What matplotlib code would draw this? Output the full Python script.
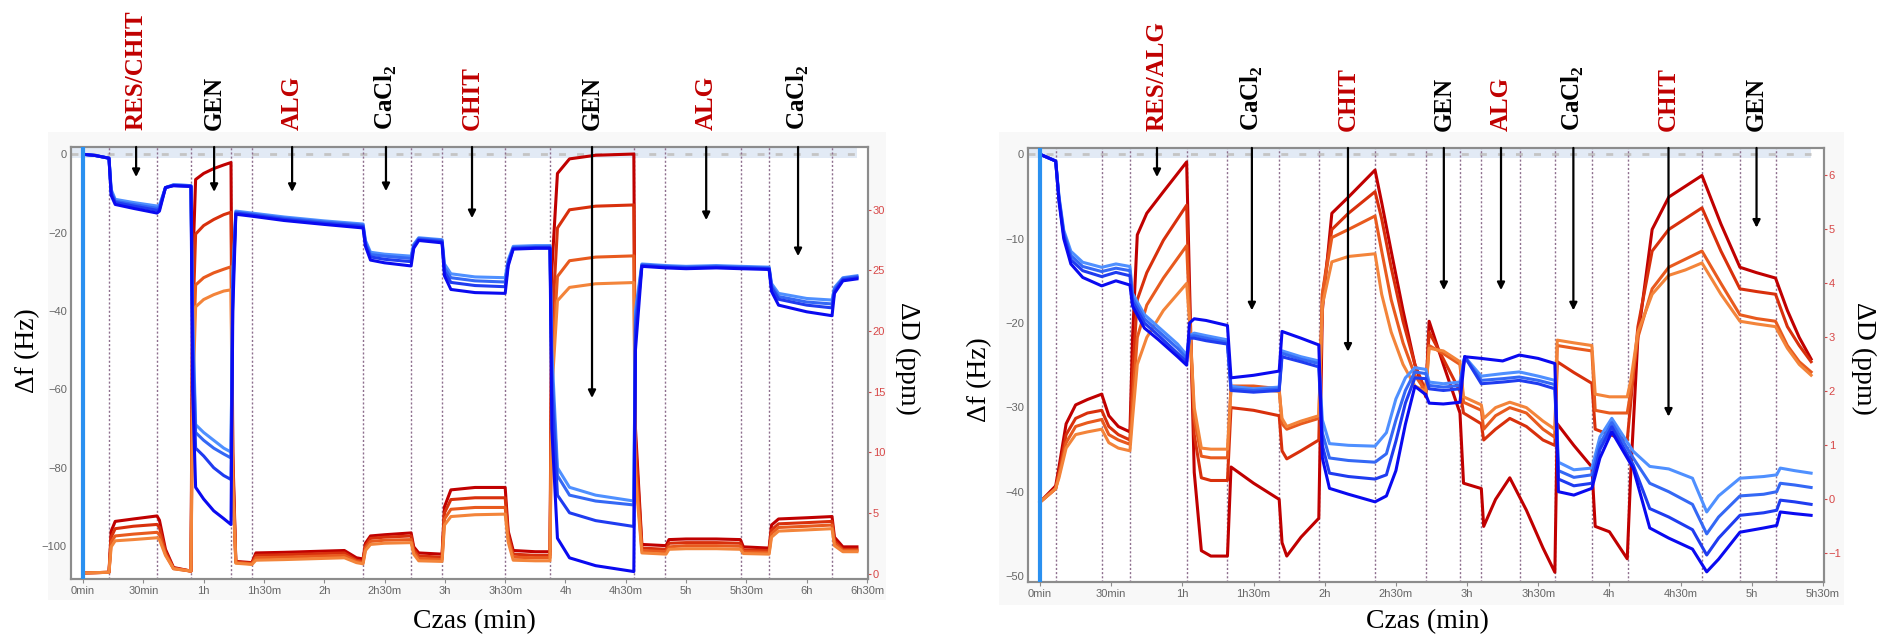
import matplotlib
matplotlib.use("Agg")
import matplotlib.pyplot as plt
from matplotlib.patches import Rectangle

plt.rcParams["mathtext.fontset"] = "custom"
plt.rcParams["mathtext.rm"] = "Liberation Serif"
plt.rcParams["mathtext.bf"] = "Liberation Serif:bold"

# ---------------- lewy panel (RES/CHIT) ----------------
# czas w minutach, Δf w Hz (4 overtony, od najjaśniejszego do najciemniejszego)
L_tf = [0, 6, 12.9, 14, 16, 25, 36.8, 38, 41, 45,
        53.7, 54.5, 56, 60, 65, 70, 73.6, 74.5, 76, 84,
        100, 120, 139.3, 140.5, 143, 150, 163.2, 164.5, 167, 178.6,
        179.8, 183, 195, 210, 211.5, 214, 225, 232.3, 233.2, 236,
        242, 255, 274, 274.8, 278, 290, 300, 315, 327, 341.3,
        342.5, 346, 360, 372.6, 373.8, 378, 385]
L_f1 = [0, -0.3, -1, -9, -11.5, -12.3, -13.2, -13, -8.5, -7.8,
        -8, -40, -69, -71, -73, -75, -76, -30, -14.5, -15,
        -16, -17, -17.8, -22, -25, -25.5, -26, -23, -21.3, -21.8,
        -28, -30.5, -31.3, -31.5, -27, -23.5, -23.3, -23.3, -50, -80,
        -85, -87, -88.5, -40, -28, -28.4, -28.6, -28.4, -28.6, -28.8,
        -33, -35.5, -36.8, -37.2, -34, -31.5, -31]
L_f2 = [0, -0.3, -1, -9.5, -12, -12.8, -13.8, -13.5, -8.5, -7.8,
        -8, -45, -71, -73, -75, -76.5, -77.5, -32, -14.8, -15.3,
        -16.3, -17.3, -18.1, -22.5, -25.6, -26, -26.6, -23.3, -21.5, -22,
        -29, -31.5, -32.3, -32.6, -27.5, -23.8, -23.6, -23.5, -55, -82,
        -87, -88.5, -89.5, -42, -28.2, -28.6, -28.8, -28.6, -28.8, -29,
        -33.5, -36.3, -37.7, -38.2, -34.5, -31.7, -31.2]
L_f3 = [0, -0.3, -1, -10, -12.3, -13.2, -14.3, -14, -8.5, -8,
        -8.2, -50, -75, -77, -80, -82, -83, -35, -15, -15.5,
        -16.6, -17.6, -18.4, -23, -26.2, -26.8, -27.4, -23.6, -21.8, -22.3,
        -30, -32.7, -33.5, -33.8, -28, -24, -23.8, -23.8, -60, -87,
        -91.5, -93.5, -95, -45, -28.4, -28.8, -29, -28.8, -29, -29.2,
        -34, -37, -38.5, -39.2, -35, -32, -31.5]
L_f4 = [0, -0.3, -1, -10.5, -12.8, -13.8, -15, -14.5, -8.5, -8,
        -8.2, -60, -85, -88, -91, -93, -94.5, -40, -15.3, -15.8,
        -16.9, -17.9, -18.8, -23.5, -27, -27.7, -28.5, -24, -22, -22.6,
        -31, -34.5, -35.3, -35.5, -28.5, -24.2, -24, -24, -70, -98,
        -103, -105, -106.5, -50, -28.6, -29, -29.2, -29, -29.2, -29.4,
        -35, -38.5, -40.2, -41.2, -35.5, -32.3, -31.8]

# ΔD w ppm (od ciemnoczerwonego do pomarańczowego)
L_td = [0, 12.9, 14, 16, 25, 36.8, 38, 41, 45, 53.7,
        54.5, 56, 60, 65, 70, 73.6, 74.5, 76, 84, 86,
        100, 120, 130, 136, 139.3, 140.5, 143, 150, 163.2, 164.5,
        167, 178.6, 179.8, 183, 195, 210, 211.5, 214, 225, 232.3,
        233.2, 236, 242, 255, 274, 274.8, 278, 290, 291.5, 300,
        315, 327, 328.5, 341.3, 342.5, 346, 360, 372.6, 373.8, 378,
        385]
L_d1 = [0.05, 0.1, 3.5, 4.3, 4.5, 4.75, 4.4, 2.0, 0.5, 0.2,
        25, 32.5, 33, 33.4, 33.7, 33.9, 10, 1.0, 0.9, 1.7,
        1.75, 1.85, 1.9, 1.3, 1.2, 2.5, 3.1, 3.2, 3.35, 2.2,
        1.7, 1.6, 5.5, 6.9, 7.1, 7.1, 3.5, 1.9, 1.8, 1.8,
        25, 33, 34.2, 34.5, 34.6, 12, 2.4, 2.3, 2.8, 2.85,
        2.85, 2.8, 2.2, 2.1, 4.0, 4.5, 4.6, 4.7, 3.0, 2.2,
        2.2]
L_d2 = [0.05, 0.1, 3.0, 3.7, 3.9, 4.05, 3.8, 1.8, 0.45, 0.2,
        20, 28, 28.7, 29.2, 29.6, 29.8, 9, 0.95, 0.85, 1.5,
        1.55, 1.65, 1.7, 1.1, 1.0, 2.3, 2.9, 3.0, 3.1, 2.0,
        1.45, 1.35, 5.0, 6.1, 6.25, 6.25, 3.2, 1.6, 1.5, 1.5,
        20, 28.5, 30, 30.3, 30.4, 11, 2.1, 2.0, 2.5, 2.55,
        2.55, 2.5, 1.95, 1.9, 3.6, 4.1, 4.2, 4.3, 2.7, 2.0,
        2.0]
L_d3 = [0.05, 0.1, 2.6, 3.1, 3.25, 3.4, 3.2, 1.6, 0.4, 0.2,
        16, 23.8, 24.4, 24.8, 25.1, 25.3, 8, 0.9, 0.8, 1.3,
        1.35, 1.45, 1.5, 1.0, 0.9, 2.1, 2.65, 2.75, 2.8, 1.8,
        1.25, 1.15, 4.5, 5.3, 5.45, 5.45, 2.9, 1.35, 1.3, 1.3,
        17, 24.5, 25.8, 26.1, 26.2, 9, 1.9, 1.8, 2.2, 2.3,
        2.3, 2.25, 1.8, 1.75, 3.3, 3.8, 3.9, 4.0, 2.5, 1.9,
        1.9]
L_d4 = [0.05, 0.1, 2.2, 2.7, 2.8, 2.95, 2.8, 1.5, 0.4, 0.2,
        14, 22, 22.6, 23.0, 23.3, 23.4, 7, 0.85, 0.75, 1.1,
        1.15, 1.25, 1.3, 0.9, 0.8, 1.9, 2.4, 2.5, 2.55, 1.6,
        1.05, 1.0, 4.0, 4.7, 4.85, 4.9, 2.6, 1.1, 1.05, 1.05,
        15, 22.5, 23.6, 23.9, 24.0, 8, 1.7, 1.6, 2.0, 2.05,
        2.05, 2.0, 1.65, 1.6, 3.0, 3.5, 3.6, 3.7, 2.3, 1.8,
        1.8]

L_marks = [12.9, 36.8, 53.7, 73.6, 84.1, 139.3, 163.2, 178.6, 210,
           232.3, 274, 289.6, 327.4, 341.3, 372.6]
L_events = ["RES/CHIT", "GEN", "ALG", "CaCl$_\\mathbf{2}$",
            "CHIT", "GEN", "ALG", "CaCl$_\\mathbf{2}$"]
L_event_t = [26.4, 65.2, 104, 150.7, 193.5, 253.2, 310, 355.7]
L_event_end = [-5.8, -9.6, -9.6, -9.4, -16.3, -62.2, -16.8, -26]

# ---------------- prawy panel (RES/ALG) ----------------
R_tf = [0, 6.6, 8, 10, 13, 18, 26, 32, 37.9, 39,
        44, 50, 58, 61.8, 63, 65, 70, 79, 80.5, 90,
        100.8, 102, 110, 117.5, 119, 122, 130, 141.2, 146, 150,
        154, 158, 162.6, 164, 170, 177, 179, 186, 195, 202,
        210, 217, 218.5, 225, 232.6, 236, 241, 250, 257, 265,
        275, 281, 286, 295, 305, 310.5, 312, 318, 325]
R_f1 = [0, -0.8, -5, -9, -11.5, -12.8, -13.4, -13.0, -13.3, -16.5,
        -19.0, -20.5, -22.5, -23.8, -21.5, -21.2, -21.5, -22.0, -27.5, -27.8,
        -27.6, -23.3, -24.0, -24.5, -31.5, -34.3, -34.5, -34.6, -33.0, -29.0,
        -26.5, -25.3, -25.5, -27.0, -27.2, -27.0, -24.0, -26.3, -26.0, -25.8,
        -26.3, -26.8, -36.5, -37.4, -37.2, -33.5, -31.3, -35.2, -37.0, -37.3,
        -38.4, -42.4, -40.5, -38.4, -38.2, -38.0, -37.2, -37.5, -37.8]
R_f2 = [0, -0.8, -5.2, -9.3, -12.0, -13.3, -13.9, -13.5, -13.8, -17.0,
        -19.5, -21.0, -23.0, -24.2, -21.6, -21.5, -21.8, -22.3, -27.8, -28.0,
        -27.8, -23.6, -24.3, -24.8, -33.0, -36.0, -36.3, -36.5, -35.5, -31.5,
        -28.0, -25.8, -26.0, -27.4, -27.6, -27.4, -24.0, -26.8, -26.6, -26.4,
        -26.8, -27.3, -37.5, -38.3, -38.0, -34.3, -31.8, -36.0, -39.0, -40.0,
        -41.5, -45.0, -43.0, -40.5, -40.3, -40.0, -39.0, -39.2, -39.5]
R_f3 = [0, -0.8, -5.4, -9.6, -12.5, -13.8, -14.5, -14.0, -14.4, -17.5,
        -20.0, -21.5, -23.6, -24.6, -21.8, -21.8, -22.1, -22.5, -28.0, -28.2,
        -28.0, -24.0, -24.6, -25.2, -34.5, -37.8, -38.2, -38.5, -38.0, -34.0,
        -29.5, -26.5, -26.6, -27.8, -28.0, -27.8, -24.0, -27.2, -27.0, -26.8,
        -27.2, -27.8, -38.5, -39.3, -39.0, -35.0, -32.3, -36.8, -42.0, -43.0,
        -44.5, -47.5, -45.5, -42.8, -42.5, -42.2, -41.0, -41.2, -41.5]
R_f4 = [0, -0.8, -5.6, -10.0, -13.0, -14.6, -15.6, -15.0, -15.5, -18.0,
        -20.6, -22.0, -24.0, -25.0, -20.0, -19.5, -19.7, -20.3, -26.5, -26.2,
        -25.7, -21.0, -21.8, -22.6, -36.0, -39.6, -40.3, -41.2, -40.5, -37.5,
        -32.0, -27.5, -28.5, -29.5, -29.6, -29.4, -24.0, -24.2, -24.5, -23.8,
        -24.2, -24.8, -40.0, -40.4, -39.6, -36.0, -32.9, -37.2, -44.3, -45.5,
        -46.8, -49.5, -48.0, -44.8, -44.3, -44.0, -42.4, -42.6, -42.8]

R_td = [0, 6.6, 8, 11, 15, 20, 26, 29, 33, 37.9,
        39, 41, 45, 52, 61.8, 63, 65, 68, 72, 79,
        80.5, 90, 100.8, 102, 104, 110, 117.5, 119, 123, 130,
        141.2, 144, 148, 153, 158, 162.6, 164, 170, 177, 178.5,
        186, 187, 192, 198, 205, 212, 217, 218, 225, 232.6,
        234, 240, 247.5, 249, 252, 258, 265, 272, 279, 287,
        295, 302, 310, 315, 320, 325]
R_d1 = [-0.05, 0.25, 0.6, 1.4, 1.75, 1.85, 1.95, 1.55, 1.35, 1.25,
        3.0, 4.9, 5.3, 5.7, 6.25, 4.0, 0.5, -0.95, -1.05, -1.05,
        0.6, 0.3, 0.0, -0.8, -1.05, -0.7, -0.35, 3.5, 5.3, 5.6,
        6.1, 5.5, 4.6, 3.5, 2.5, 1.9, 3.3, 2.5, 1.6, 0.3,
        0.2, -0.5, 0.0, 0.4, -0.2, -0.9, -1.35, 1.4, 1.0, 0.6,
        -0.5, -0.6, -1.1, 0.5, 3.0, 5.0, 5.6, 5.8, 6.0, 5.1,
        4.3, 4.2, 4.1, 3.5, 3.0, 2.6]
R_d2 = [-0.05, 0.2, 0.5, 1.2, 1.5, 1.6, 1.65, 1.35, 1.2, 1.1,
        2.3, 3.7, 4.2, 4.8, 5.45, 3.5, 1.2, 0.4, 0.35, 0.35,
        1.7, 1.65, 1.55, 0.9, 0.75, 0.9, 1.1, 3.8, 5.0, 5.3,
        5.7, 5.2, 4.3, 3.3, 2.5, 2.0, 3.1, 2.6, 2.0, 1.6,
        1.4, 1.1, 1.3, 1.5, 1.35, 1.1, 1.0, 2.55, 2.35, 2.15,
        1.3, 1.2, 1.1, 1.8, 3.2, 4.6, 5.0, 5.2, 5.4, 4.6,
        3.9, 3.85, 3.8, 3.2, 2.85, 2.55]
R_d3 = [-0.05, 0.2, 0.45, 1.05, 1.35, 1.42, 1.48, 1.2, 1.1, 1.02,
        1.8, 3.0, 3.6, 4.1, 4.7, 3.5, 1.5, 0.8, 0.77, 0.77,
        2.1, 2.1, 2.05, 1.4, 1.3, 1.4, 1.5, 3.8, 4.85, 5.0,
        5.25, 4.6, 3.7, 2.9, 2.3, 2.0, 2.85, 2.7, 2.5, 1.8,
        1.65, 1.3, 1.55, 1.7, 1.6, 1.3, 1.15, 2.85, 2.8, 2.75,
        1.65, 1.6, 1.6, 2.0, 3.0, 3.9, 4.3, 4.45, 4.6, 4.0,
        3.42, 3.35, 3.3, 2.85, 2.55, 2.36]
R_d4 = [-0.05, 0.2, 0.4, 0.95, 1.2, 1.25, 1.3, 1.05, 0.95, 0.9,
        1.5, 2.5, 3.0, 3.5, 4.0, 3.3, 1.7, 0.95, 0.93, 0.93,
        2.05, 2.05, 2.0, 1.5, 1.35, 1.45, 1.55, 3.6, 4.4, 4.5,
        4.55, 3.8, 3.1, 2.5, 2.1, 2.0, 2.8, 2.75, 2.55, 1.9,
        1.75, 1.5, 1.7, 1.8, 1.7, 1.45, 1.3, 2.95, 2.9, 2.85,
        1.95, 1.9, 1.9, 2.2, 3.1, 3.8, 4.15, 4.25, 4.38, 3.8,
        3.3, 3.25, 3.2, 2.8, 2.5, 2.3]

R_marks = [6.6, 26, 37.9, 61.8, 79, 100.8, 117.5, 141.2, 162.6, 177,
           186, 202.3, 217, 232.6, 248, 279, 295, 310]
R_events = ["RES/ALG", "CaCl$_\\mathbf{2}$", "CHIT", "GEN",
            "ALG", "CaCl$_\\mathbf{2}$", "CHIT", "GEN"]
R_event_t = [49.3, 89.3, 129.8, 170.2, 194.3, 224.8, 264.9, 302]
R_event_end = [-2.7, -18.5, -23.4, -16.1, -16.1, -18.5, -31.1, -8.7]

event_colors = ["#c00000", "black", "#c00000", "black", "#c00000", "black", "#c00000", "black"]
time_labels = ["0min", "30min", "1h", "1h30m", "2h", "2h30m", "3h",
               "3h30m", "4h", "4h30m", "5h", "5h30m", "6h", "6h30m"]

f_colors = ["#4f90ff", "#3468f5", "#1f3cf0", "#0a0af0"]
d_colors = ["#c00000", "#d8300c", "#e85a1e", "#f3843a"]

fig = plt.figure(figsize=(18.78, 6.35), dpi=100)

# jasnoszare tło pod wykresami
fig.patches.append(Rectangle((0.0256, 0.055), 0.446, 0.737, transform=fig.transFigure,
                             facecolor="#f8f8f8", edgecolor="none", zorder=-10))
fig.patches.append(Rectangle((0.532, 0.047), 0.45, 0.745, transform=fig.transFigure,
                             facecolor="#f8f8f8", edgecolor="none", zorder=-10))


def panel(rect, tf, fs, td, ds, xlim, flim, dlim, fticks, dticks, nticks,
          marks, t_end, band_low, events, ev_t, ev_end):
    axd = fig.add_axes(rect)
    ax = axd.twinx()
    # Δf na lewej osi, ΔD na prawej
    ax.yaxis.tick_left()
    axd.yaxis.tick_right()
    axd.set_facecolor("white")

    frac_end = (t_end - xlim[0]) / (xlim[1] - xlim[0])
    frac_band = (band_low - flim[0]) / (flim[1] - flim[0])
    frac_zero = (0 - flim[0]) / (flim[1] - flim[0])
    axd.add_patch(Rectangle((0, frac_band), frac_end, 1 - frac_band, transform=axd.transAxes,
                            facecolor="#e2eaf5", edgecolor="none", zorder=0))
    axd.plot([0, frac_end], [frac_zero, frac_zero], transform=axd.transAxes,
             color="#c4c4c4", lw=2, dashes=(2.5, 4), zorder=0.5)
    for m in marks:
        axd.axvline(m, color="#8e6f8e", lw=1, dashes=(1.5, 1.5), zorder=0.8)

    for vals, c in zip(ds, d_colors):
        axd.plot(td, vals, color=c, lw=2.2, zorder=2)
    for vals, c in zip(fs, f_colors):
        ax.plot(tf, vals, color=c, lw=2.2, zorder=2)
    ax.axvline(0, color="#2a90f0", lw=3, zorder=3)

    for name, t, yend, c in zip(events, ev_t, ev_end, event_colors):
        ax.annotate("", xy=(t, yend), xytext=(t, flim[1]),
                    arrowprops=dict(arrowstyle="-|>", color="black", lw=1.6,
                                    mutation_scale=11, shrinkA=0, shrinkB=0),
                    annotation_clip=False, zorder=5)
        ax.annotate(name, xy=(t, 1), xycoords=("data", "axes fraction"),
                    xytext=(0, 12), textcoords="offset points", rotation=90,
                    ha="center", va="bottom", fontsize=18, fontweight="bold",
                    family="Liberation Serif", color=c, annotation_clip=False)

    ax.set_xlim(xlim)
    ax.set_ylim(flim)
    axd.set_ylim(dlim)
    axd.set_xticks([30 * i for i in range(nticks)])
    axd.set_xticklabels(time_labels[:nticks])
    ax.set_yticks(fticks)
    axd.set_yticks(dticks)

    axd.tick_params(axis="x", length=3, pad=2, color="#8c8c8c", labelsize=8,
                    labelcolor="#666666")
    axd.tick_params(axis="y", length=2, pad=1.5, color="#d84848", labelsize=8,
                    labelcolor="#d84848")
    ax.tick_params(axis="y", length=0, pad=3, labelsize=8, labelcolor="#666666")
    for lab in axd.get_xticklabels() + axd.get_yticklabels() + ax.get_yticklabels():
        lab.set_family("Liberation Sans")
    for a in (ax, axd):
        for s in a.spines.values():
            s.set_color("#8c8c8c")
            s.set_linewidth(1.5)
    return ax, axd


panel([0.0378, 0.0882, 0.4244, 0.6803], L_tf, [L_f1, L_f2, L_f3, L_f4],
      L_td, [L_d1, L_d2, L_d3, L_d4], (-6.0, 390.5), (-108.4, 1.86), (-0.45, 35.18),
      [0, -20, -40, -60, -80, -100], [0, 5, 10, 15, 20, 25, 30], 14,
      L_marks, 385, -0.9, L_events, L_event_t, L_event_end)

panel([0.5474, 0.0835, 0.4238, 0.6835], R_tf, [R_f1, R_f2, R_f3, R_f4],
      R_td, [R_d1, R_d2, R_d3, R_d4], (-5.06, 330.4), (-50.7, 0.75), (-1.53, 6.51),
      [0, -10, -20, -30, -40, -50], [-1, 0, 1, 2, 3, 4, 5, 6], 12,
      R_marks, 325, -0.4, R_events, R_event_t, R_event_end)

serif = dict(family="Liberation Serif", fontsize=20, ha="center", va="center")
fig.text(28 / 1878, 1 - 351 / 635, "Δf (Hz)", rotation=90, **serif)
fig.text(908 / 1878, 1 - 358 / 635, "ΔD (ppm)", rotation=270, **serif)
fig.text(474 / 1878, 1 - 622 / 635, "Czas (min)", **serif)
fig.text(980 / 1878, 1 - 380 / 635, "Δf (Hz)", rotation=90, **serif)
fig.text(1864 / 1878, 1 - 358 / 635, "ΔD (ppm)", rotation=270, **serif)
fig.text(1427 / 1878, 1 - 622 / 635, "Czas (min)", **serif)

fig.savefig("out.png", dpi=100, facecolor="white")
